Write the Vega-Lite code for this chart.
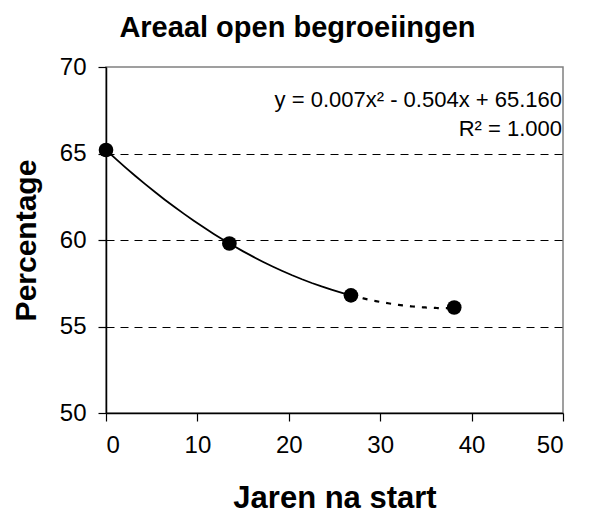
{
  "$schema": "https://vega.github.io/schema/vega-lite/v6.json",
  "width": 457,
  "height": 346,
  "autosize": {"type": "none"},
  "padding": {"left": 106, "top": 67, "right": 34, "bottom": 105},
  "background": "white",
  "config": {
    "font": "Liberation Sans",
    "view": {"stroke": "#808080", "strokeWidth": 1.5},
    "axis": {
      "domainColor": "black",
      "domainWidth": 1.5,
      "tickColor": "black",
      "tickSize": 8,
      "tickWidth": 1.2,
      "labelColor": "black",
      "labelFontSize": 24,
      "labelFont": "Liberation Sans",
      "titleColor": "black",
      "titleFont": "Liberation Sans",
      "titleFontWeight": "bold"
    }
  },
  "title": {
    "text": "Areaal open begroeiingen",
    "font": "Liberation Sans",
    "fontSize": 29,
    "fontWeight": "bold",
    "color": "black",
    "anchor": "middle",
    "frame": "bounds",
    "offset": 12,
    "dx": 10
  },
  "datasets": {
    "metingen": [
      {"jaar": 0, "pct": 65.2},
      {"jaar": 13.5, "pct": 59.8},
      {"jaar": 26.8, "pct": 56.8},
      {"jaar": 38.1, "pct": 56.1}
    ],
    "vergelijking": [
      {"tekst": "y = 0.007x² - 0.504x + 65.160", "jaar": 50, "pct": 68.1},
      {"tekst": "R² = 1.000", "jaar": 50, "pct": 66.4}
    ]
  },
  "encoding": {
    "x": {
      "field": "jaar",
      "type": "quantitative",
      "scale": {"domain": [0, 50], "nice": false, "zero": false},
      "axis": {
        "title": "Jaren na start",
        "titleFontSize": 31,
        "values": [0, 10, 20, 30, 40, 50],
        "grid": false,
        "labelPadding": 12,
        "titlePadding": 26
      }
    },
    "y": {
      "field": "pct",
      "type": "quantitative",
      "scale": {"domain": [50, 70], "nice": false, "zero": false},
      "axis": {
        "title": "Percentage",
        "titleFontSize": 30,
        "values": [50, 55, 60, 65, 70],
        "grid": true,
        "gridColor": "black",
        "gridDash": [8, 6],
        "gridWidth": 1,
        "gridOpacity": {"condition": {"test": "datum.value == 50 || datum.value == 70", "value": 0}, "value": 1},
        "labelPadding": 12,
        "titlePadding": 18
      }
    }
  },
  "layer": [
    {
      "data": {"name": "metingen"},
      "transform": [
        {"filter": "datum.jaar < 30"},
        {"regression": "pct", "on": "jaar", "method": "poly", "order": 2, "extent": [0, 26.8]}
      ],
      "mark": {"type": "line", "color": "black", "strokeWidth": 1.8}
    },
    {
      "data": {"name": "metingen"},
      "transform": [
        {"filter": "datum.jaar < 30"},
        {"regression": "pct", "on": "jaar", "method": "poly", "order": 2, "extent": [26.8, 38.1]}
      ],
      "mark": {"type": "line", "color": "black", "strokeWidth": 2.2, "strokeDash": [5, 7]}
    },
    {
      "data": {"name": "metingen"},
      "mark": {"type": "circle", "color": "black", "opacity": 1, "size": 215}
    },
    {
      "data": {"name": "vergelijking"},
      "mark": {"type": "text", "align": "right", "baseline": "middle", "dx": -1, "fontSize": 22, "font": "Liberation Sans", "color": "black"},
      "encoding": {"text": {"field": "tekst"}}
    }
  ]
}
